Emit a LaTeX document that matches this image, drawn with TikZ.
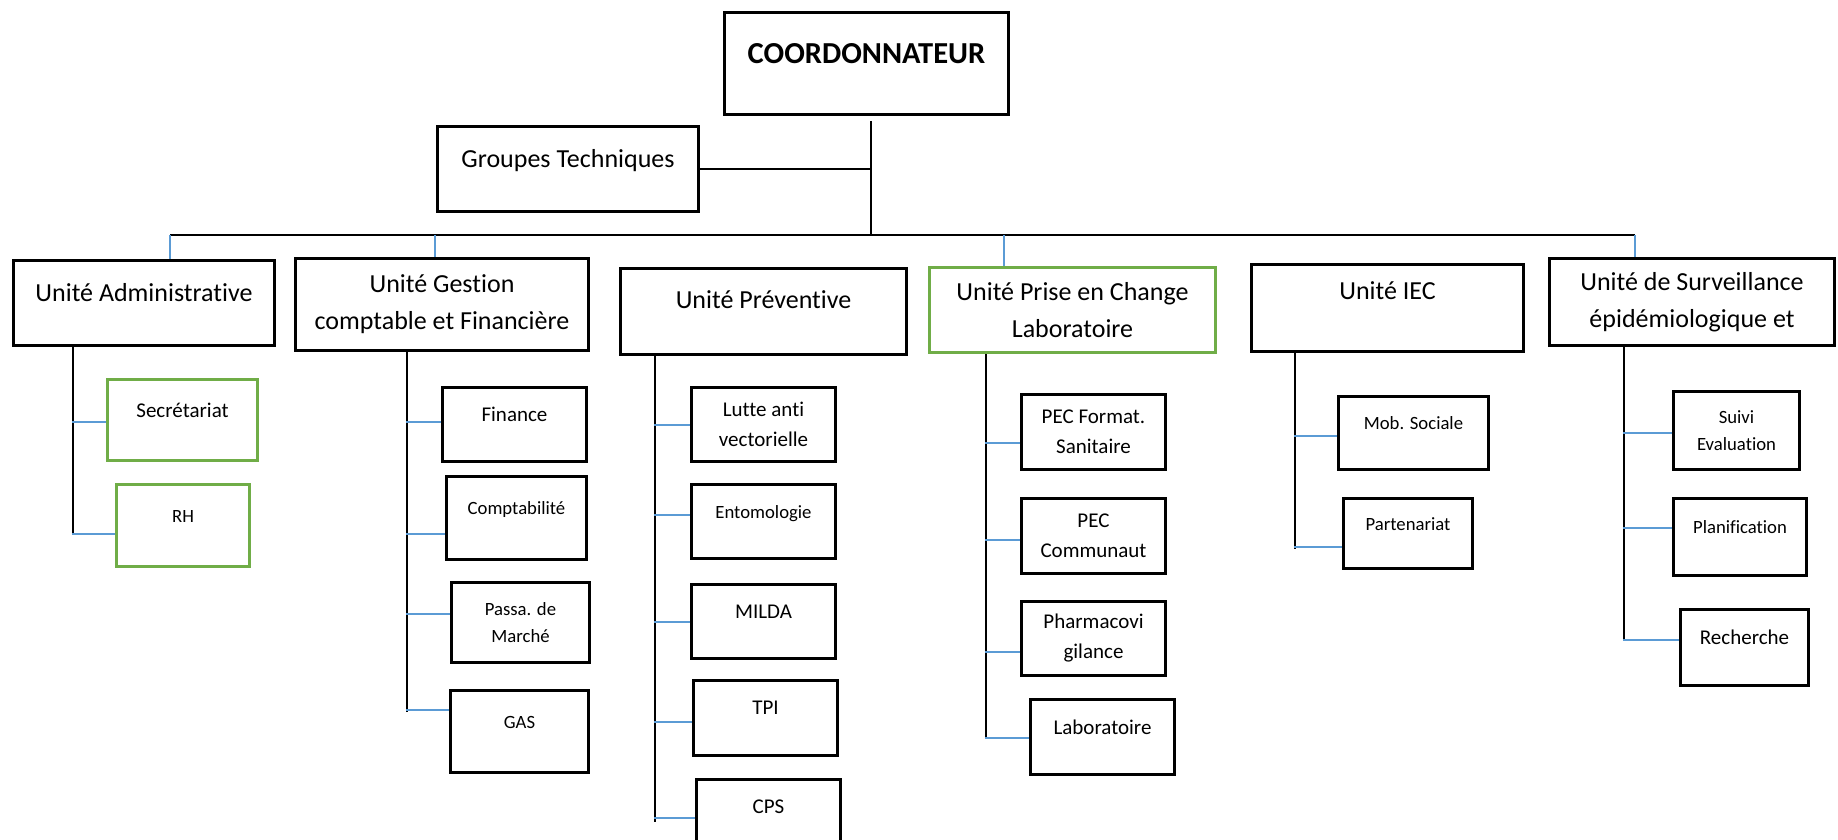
\documentclass[tikz,border=0pt]{standalone}
\usepackage{fontspec}
\setmainfont{Carlito}[Ligatures=NoCommon]
\usepackage{tikz}
\usetikzlibrary{positioning}
\definecolor{offgreen}{RGB}{112,173,71}
\definecolor{offblue}{RGB}{91,155,213}
\tikzset{box/.style 2 args={draw,line width=3pt,minimum width=#1,minimum height=#2,align=center,inner sep=1pt},
  gbox/.style 2 args={box={#1}{#2},draw=offgreen},
  conn/.style={line width=1.5pt},
  stub/.style={draw=offblue,line width=2pt},
  bigtxt/.style={font=\fontsize{30.5}{36}\selectfont\bfseries},
  unittxt/.style={font=\fontsize{26}{37}\selectfont},
  subtxt/.style={font=\fontsize{21}{30}\selectfont},
  smltxt/.style={font=\fontsize{18.7}{27}\selectfont}}

\begin{document}
\begin{tikzpicture}[x=1pt,y=-1pt]
    \useasboundingbox (0,0) rectangle (1838,840);

    \node[box={284pt}{102pt},bigtxt,text depth=19pt] (coord) at (866.5,63.5) {COORDONNATEUR};
    \node[box={261pt}{85pt},unittxt,text depth=22pt] (gt) at (568,169) {Groupes Techniques};

    % unites
    \node[box={261pt}{85pt},unittxt,text depth=22pt] (adm) at (144,303) {Unité Administrative};
    \node[box={293pt}{92pt},unittxt] (ges) at (442,304.5) {Unité Gestion\\comptable et Financière};
    \node[box={286pt}{86pt},unittxt,text depth=23pt] (pre) at (763.5,311.5) {Unité Préventive};
    \node[gbox={286pt}{85pt},unittxt] (pri) at (1072.5,310) {Unité Prise en Change\\Laboratoire};
    \node[box={272pt}{87pt},unittxt,text depth=34pt] (iec) at (1387.5,308) {Unité IEC};
    \node[box={285pt}{87pt},unittxt] (sur) at (1692,302) {Unité de Surveillance\\épidémiologique et};

    % services
    \node[gbox={150pt}{81pt},subtxt,text depth=20pt] (sec) at (182.5,420) {Secrétariat};
    \node[gbox={133pt}{82pt},smltxt,text depth=19pt] (rh) at (183,525.5) {RH};

    \node[box={144pt}{74pt},subtxt,text depth=20pt] (fin) at (514.5,424.5) {Finance};
    \node[box={140pt}{83pt},smltxt,text depth=19pt] (cpt) at (516.5,518) {Comptabilité};
    \node[box={138pt}{80pt},smltxt] (pas) at (520.5,622.5) {Passa. de\\Marché};
    \node[box={138pt}{82pt},smltxt,text depth=19pt] (gas) at (519.5,731.5) {GAS};

    \node[box={144pt}{74pt},subtxt] (lav) at (763.5,424.5) {Lutte anti\\vectorielle};
    \node[box={144pt}{74pt},smltxt,text depth=19pt] (ent) at (763.5,521.5) {Entomologie};
    \node[box={144pt}{74pt},subtxt,text depth=20pt] (mil) at (763.5,621.5) {MILDA};
    \node[box={144pt}{75pt},subtxt,text depth=20pt] (tpi) at (765.5,718) {TPI};
    \node[box={144pt}{74pt},subtxt,text depth=20pt] (cps) at (768.5,816.5) {CPS};

    \node[box={144pt}{75pt},subtxt] (pfs) at (1093.5,432) {PEC Format.\\Sanitaire};
    \node[box={144pt}{75pt},subtxt] (pcm) at (1093.5,536) {PEC\\Communaut};
    \node[box={144pt}{74pt},subtxt] (phv) at (1093.5,638.5) {Pharmacovi\\gilance};
    \node[box={144pt}{75pt},subtxt,text depth=20pt] (lab) at (1102.5,737) {Laboratoire};

    \node[box={150pt}{73pt},smltxt,text depth=19pt] (mob) at (1413.5,433) {Mob. Sociale};
    \node[box={129pt}{70pt},smltxt,text depth=19pt] (par) at (1408,533.5) {Partenariat};

    \node[box={126pt}{78pt},smltxt] (sev) at (1736.5,430.5) {Suivi\\Evaluation};
    \node[box={133pt}{77pt},smltxt,text depth=19pt] (pla) at (1740,537) {Planification};
    \node[box={128pt}{76pt},subtxt,text depth=20pt] (rec) at (1744.5,647.5) {Recherche};

    \coordinate (hub) at (871,235);
    \coordinate (d1) at (170,235);
    \coordinate (d2) at (435,235);
    \coordinate (d3) at (1004,235);
    \coordinate (d4) at (1635,235);

    \draw[conn] ([yshift=-5pt]coord.south -| hub) -- (hub);
    \draw[conn] (gt.east) -- (gt.east -| hub);
    \draw[conn] (d1) -- (d4);
    \draw[stub] (d1) -- (d1 |- adm.north);
    \draw[stub] (d2) -- (d2 |- ges.north);
    \draw[stub] (d3) -- (d3 |- pri.north);
    \draw[stub] (d4) -- (d4 |- sur.north);

    % lignes verticales
    \coordinate (admx) at (73,534);
    \coordinate (gesx) at (407,712);
    \coordinate (prex) at (655,822);
    \coordinate (prix) at (986,738);
    \coordinate (iecx) at (1295,549);
    \coordinate (surx) at (1624,640);
    \draw[conn] (adm.south -| admx) -- (admx);
    \draw[conn] (ges.south -| gesx) -- (gesx);
    \draw[conn] (pre.south -| prex) -- (prex);
    \draw[conn] (pri.south -| prix) -- (prix);
    \draw[conn] (iec.south -| iecx) -- (iecx);
    \draw[conn] (sur.south -| surx) -- (surx);

    \draw[stub] ([yshift=-2pt]sec.west) -- ++(-34,0);
    \draw[stub] ([yshift=-8.5pt]rh.west) -- ++(-43.5,0);
    \draw[stub] ([yshift=2.5pt]fin.west) -- ++(-35.5,0);
    \draw[stub] ([yshift=-16pt]cpt.west) -- ++(-39.5,0);
    \draw[stub] ([yshift=8.5pt]pas.west) -- ++(-44.5,0);
    \draw[stub] ([yshift=21.5pt]gas.west) -- ++(-43.5,0);
    \draw[stub] (lav.west) -- ++(-36.5,0);
    \draw[stub] ([yshift=6.5pt]ent.west) -- ++(-36.5,0);
    \draw[stub] (mil.west) -- ++(-36.5,0);
    \draw[stub] ([yshift=-4pt]tpi.west) -- ++(-38.5,0);
    \draw[stub] ([yshift=-1.5pt]cps.west) -- ++(-41.5,0);
    \draw[stub] ([yshift=-11pt]pfs.west) -- ++(-35.5,0);
    \draw[stub] ([yshift=-4pt]pcm.west) -- ++(-35.5,0);
    \draw[stub] ([yshift=-13.5pt]phv.west) -- ++(-35.5,0);
    \draw[stub] ([yshift=-1pt]lab.west) -- ++(-44.5,0);
    \draw[stub] ([yshift=-3pt]mob.west) -- ++(-43.5,0);
    \draw[stub] ([yshift=-13.5pt]par.west) -- ++(-48.5,0);
    \draw[stub] ([yshift=-2.5pt]sev.west) -- ++(-49.5,0);
    \draw[stub] ([yshift=9pt]pla.west) -- ++(-49.5,0);
    \draw[stub] ([yshift=7.5pt]rec.west) -- ++(-56.5,0);
\end{tikzpicture}
\end{document}
